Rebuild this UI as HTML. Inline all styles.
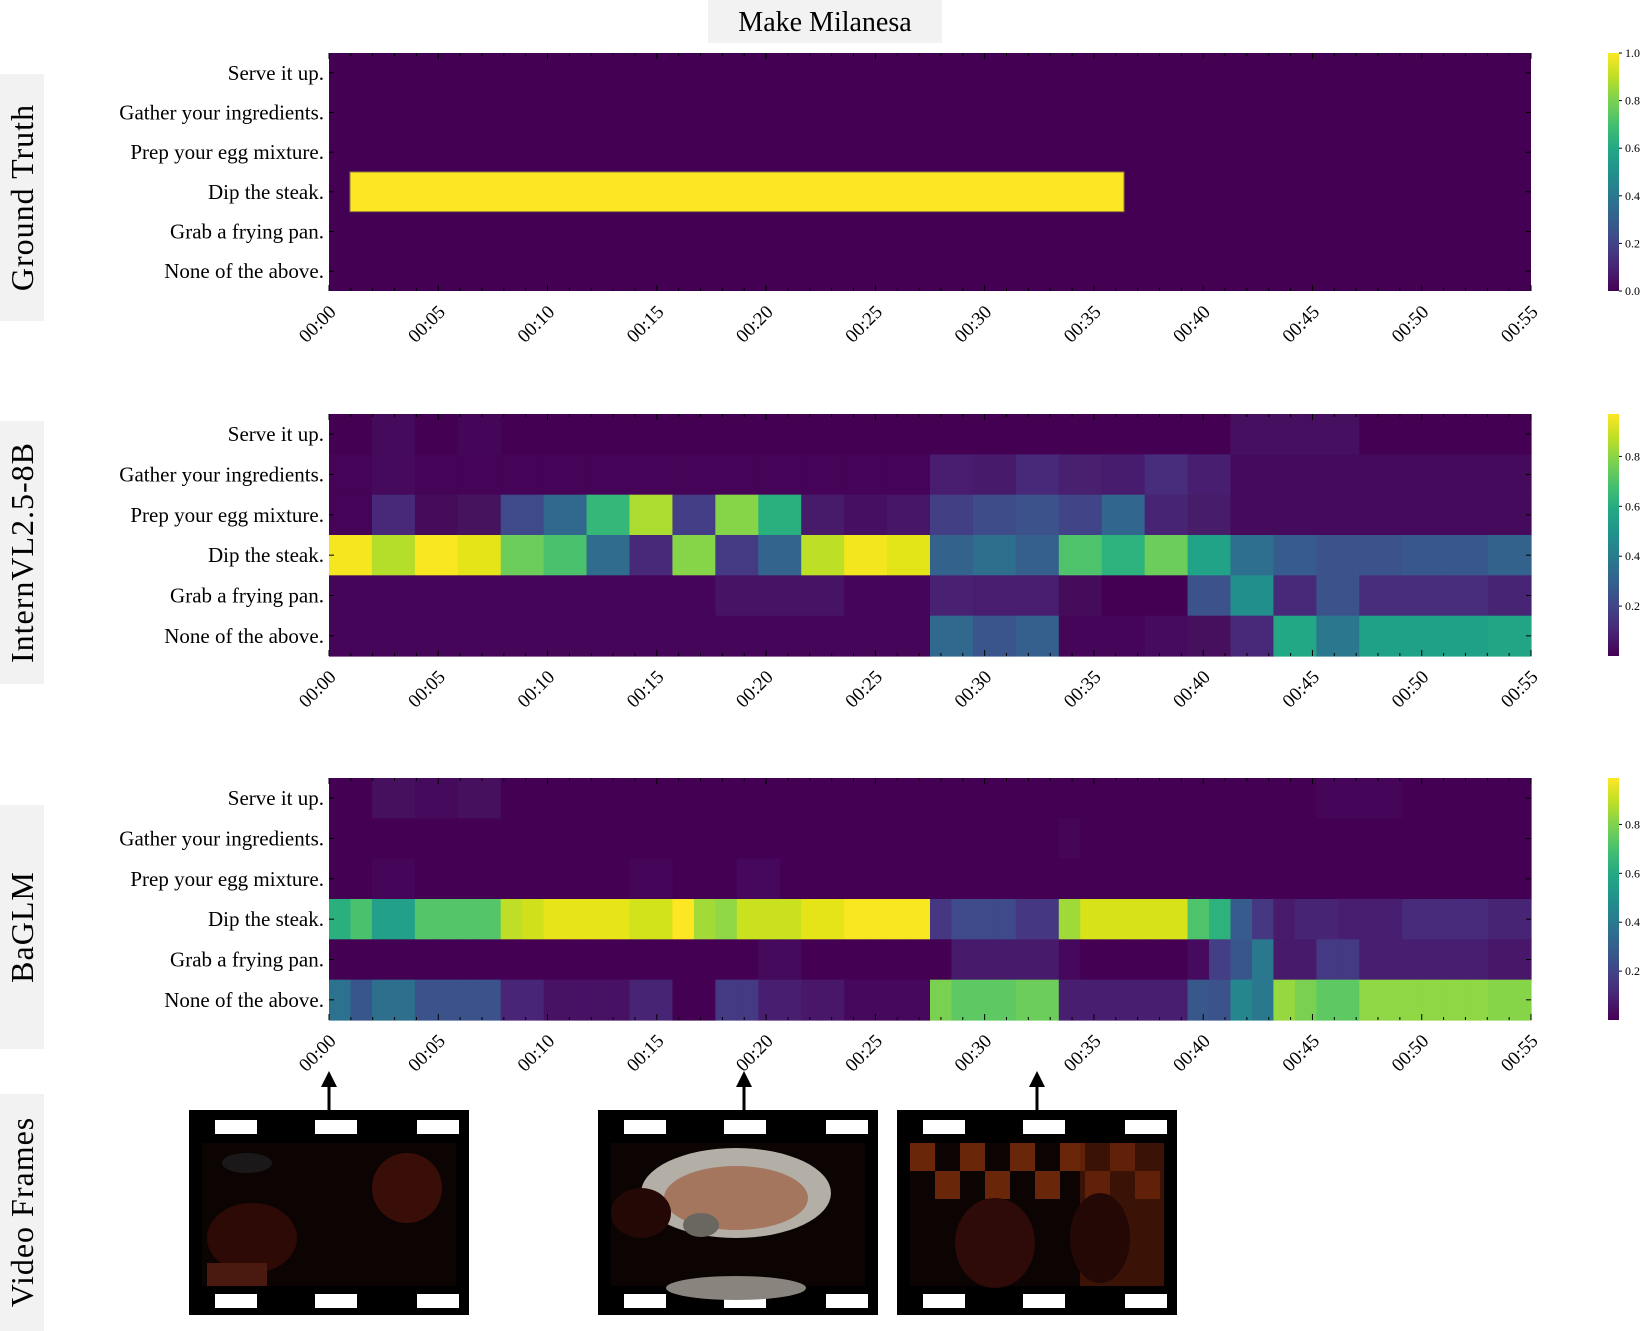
<!DOCTYPE html>
<html><head><meta charset="utf-8"><style>
html,body{margin:0;padding:0;background:#fff;}
svg{display:block;font-family:"Liberation Serif",serif;}
text{font-family:"Liberation Serif",serif;}
</style></head><body>
<svg id="s" width="1650" height="1331" viewBox="0 0 1650 1331" xmlns="http://www.w3.org/2000/svg">
<defs>
<linearGradient id="vir" x1="0" y1="1" x2="0" y2="0">
<stop offset="0" stop-color="#440154"/><stop offset="0.1" stop-color="#482475"/><stop offset="0.2" stop-color="#414487"/><stop offset="0.3" stop-color="#355f8d"/><stop offset="0.4" stop-color="#2a788e"/><stop offset="0.5" stop-color="#21918c"/><stop offset="0.6" stop-color="#22a884"/><stop offset="0.7" stop-color="#44bf70"/><stop offset="0.8" stop-color="#7ad151"/><stop offset="0.9" stop-color="#bddf26"/><stop offset="1" stop-color="#fde725"/>
</linearGradient>
</defs>
<rect x="708" y="0" width="234" height="43" fill="#f2f2f2"/>
<text x="825" y="31" font-size="28" text-anchor="middle" font-family="Liberation Serif, serif">Make Milanesa</text>
<g id="g"></g>
</svg>
<script>
var g=document.getElementById('g');var NS='http://www.w3.org/2000/svg';
function el(t,a,txt){var e=document.createElementNS(NS,t);for(var k in a)e.setAttribute(k,a[k]);if(txt)e.textContent=txt;g.appendChild(e);return e;}
var X0=329,X1=1531,W=X1-X0;
var rows=["Serve it up.","Gather your ingredients.","Prep your egg mixture.","Dip the steak.","Grab a frying pan.","None of the above."];
var D="#440154";
function fill(n,c){var a=[];for(var i=0;i<n;i++)a.push(c);return a;}
function set(a,from,to,c){for(var i=from;i<=to;i++)a[i]=c;}
var iv=[];
var r0=fill(28,D);set(r0,1,1,"#450a5c");set(r0,3,3,"#45065a");set(r0,21,23,"#460f60");iv.push(r0);
var r1=fill(28,"#450457");set(r1,1,1,"#460a5d");set(r1,14,14,"#481c6e");set(r1,15,15,"#471a6b");set(r1,16,16,"#482979");set(r1,17,17,"#48206f");set(r1,18,18,"#471b6d");set(r1,19,19,"#472d7b");set(r1,20,20,"#481f70");set(r1,21,27,"#460a5d");iv.push(r1);
iv.push(["#450457","#482878","#450c5c","#46145f","#3e4a89","#31688e","#35b779","#addc30","#433e85","#86d549","#2ab07f","#471a6a","#460f62","#481668","#423f85","#3e4c8a","#3b528b","#414487","#31668e","#482475","#471c69","#460a5d","#460a5d","#460a5d","#460a5d","#460a5d","#460a5d","#460a5d"]);
iv.push(["#f6e620","#b5de2b","#f8e621","#e5e419","#6ccd5a","#4ac16d","#2f6c8e","#482878","#86d549","#443983","#32648e","#bddf26","#f4e61e","#e2e418","#33638d","#2e6f8e","#355f8d","#4ec36b","#2db27d","#6ccd5a","#20a386","#2e6e8e","#365c8d","#3b528b","#3b528b","#38588c","#38588c","#33628d"]);
var r4=fill(28,"#450559");set(r4,9,11,"#471464");set(r4,14,14,"#482173");set(r4,15,16,"#481d6f");set(r4,17,17,"#450c5c");set(r4,18,19,D);r4[20]="#3b528b";r4[21]="#21908d";r4[22]="#482878";r4[23]="#3b528b";set(r4,24,26,"#472d7b");r4[27]="#482475";iv.push(r4);
var r5=fill(28,"#45065a");r5[14]="#31688e";r5[15]="#3a548c";r5[16]="#355f8d";r5[17]="#450559";r5[18]="#450559";r5[19]="#460b5e";r5[20]="#46105f";r5[21]="#482878";r5[22]="#22a884";r5[23]="#2a788e";set(r5,24,26,"#1fa187");r5[27]="#22a585";iv.push(r5);
var bg=[];
var b0=fill(56,D);set(b0,2,3,"#46105f");set(b0,4,5,"#450a5c");set(b0,6,7,"#46105f");set(b0,46,49,"#45065a");bg.push(b0);
var b1=fill(56,D);b1[34]="#450559";bg.push(b1);
var b2=fill(56,D);set(b2,2,3,"#45065a");set(b2,14,15,"#45065a");set(b2,19,20,"#46085c");bg.push(b2);
var b3=[];var spec=[[0,0,"#2ab07f"],[1,1,"#4ac16d"],[2,3,"#23a08a"],[4,7,"#54c568"],[8,8,"#bede27"],[9,9,"#d0e11c"],[10,13,"#e7e419"],[14,15,"#d2e21b"],[16,16,"#fde725"],[17,17,"#a2da37"],[18,18,"#8fd744"],[19,21,"#cae11f"],[22,23,"#e4e419"],[24,27,"#f8e621"],[28,28,"#453781"],[29,31,"#3e4a89"],[32,33,"#453781"],[34,34,"#a0da39"],[35,39,"#d8e219"],[40,40,"#4ec36b"],[41,41,"#2db27d"],[42,42,"#365c8d"],[43,43,"#453781"],[44,44,"#481b6d"],[45,46,"#482475"],[47,49,"#481f70"],[50,53,"#472a7a"],[54,55,"#482475"]];
spec.forEach(function(s){set(b3,s[0],s[1],s[2]);});bg.push(b3);
var b4=fill(56,D);set(b4,20,21,"#450a5c");set(b4,29,33,"#481a6c");b4[34]="#46085c";b4[40]="#460b5e";b4[41]="#433e85";b4[42]="#39568c";b4[43]="#2a788e";set(b4,44,45,"#481a6c");set(b4,46,47,"#443983");set(b4,48,53,"#481f70");set(b4,54,55,"#481769");bg.push(b4);
var b5=[];[[0,0,"#2c728e"],[1,1,"#39568c"],[2,3,"#2e6f8e"],[4,7,"#3b528b"],[8,9,"#482576"],[10,13,"#471164"],[14,15,"#482475"],[16,17,D],[18,19,"#443983"],[20,21,"#481f70"],[22,23,"#481769"],[24,27,"#46085c"],[28,28,"#7ad151"],[29,31,"#5ec962"],[32,33,"#6ccd5a"],[34,39,"#481f70"],[40,40,"#38588c"],[41,41,"#3b528b"],[42,42,"#24878e"],[43,43,"#2a788e"],[44,44,"#95d840"],[45,45,"#7ad151"],[46,47,"#5ec962"],[48,53,"#8fd744"],[54,55,"#86d549"]].forEach(function(s){set(b5,s[0],s[1],s[2]);});bg.push(b5);

function panel(top,bot,data,label,lb,ticks,vmax){
 var H=bot-top,rh=H/6;
 el('rect',{x:X0,y:top,width:W,height:H,fill:D});
 if(data){data.forEach(function(r,ri){var n=r.length,cw=W/n;r.forEach(function(c,ci){el('rect',{x:X0+ci*cw,y:top+ri*rh,width:cw+0.6,height:rh+0.6,fill:c});});});}
 else{el('rect',{x:350,y:top+3*rh,width:774,height:rh,fill:"#fde725",stroke:"#8a7a3a","stroke-width":1});}
 rows.forEach(function(t,i){el('text',{x:324,y:top+(i+0.5)*rh+7,"font-size":21,"text-anchor":"end"},t);
  el('line',{x1:X0,x2:X0+5,y1:top+(i+0.5)*rh,y2:top+(i+0.5)*rh,stroke:"#000"});el('line',{x1:X1,x2:X1-5,y1:top+(i+0.5)*rh,y2:top+(i+0.5)*rh,stroke:"#000"});});
 var step=W/55;
 for(var k=0;k<=55;k++){var x=X0+k*step;var L=(k%5==0)?6:3;el('line',{x1:x,x2:x,y1:bot,y2:bot-L,stroke:"#000"});el('line',{x1:x,x2:x,y1:top,y2:top+L,stroke:"#000"});
  if(k%5==0){var m=(k<10?"0":"")+k;el('text',{x:0,y:0,"font-size":19,"text-anchor":"end",transform:"translate("+(x+8)+","+(bot+22)+") rotate(-45)"},"00:"+m);}}
 el('rect',{x:1608,y:top,width:11,height:H,fill:"url(#vir)"});
 ticks.forEach(function(v){var y=bot-v/vmax*H;el('line',{x1:1619,x2:1622,y1:y,y2:y,stroke:"#000"});el('text',{x:1625,y:y+4,"font-size":12},v.toFixed(1));});
 el('rect',{x:0,y:lb[0],width:44,height:lb[1]-lb[0],fill:"#f2f2f2"});
 el('text',{x:0,y:0,"font-size":32,"text-anchor":"middle","letter-spacing":"1",transform:"translate(33,"+((lb[0]+lb[1])/2)+") rotate(-90)"},label);
}
panel(53,291,null,"Ground Truth",[74,321],[0,0.2,0.4,0.6,0.8,1.0],1.0);
panel(414,656,iv,"InternVL2.5-8B",[421,684],[0.2,0.4,0.6,0.8],0.97);
panel(778,1020,bg,"BaGLM",[805,1049],[0.2,0.4,0.6,0.8],0.99);
el('rect',{x:0,y:1094,width:44,height:237,fill:"#f2f2f2"});
el('text',{x:0,y:0,"font-size":32,"text-anchor":"middle","letter-spacing":"1",transform:"translate(33,1212) rotate(-90)"},"Video Frames");
[329,744,1037].forEach(function(x){el('line',{x1:x,x2:x,y1:1084,y2:1110,stroke:"#000","stroke-width":3});el('polygon',{points:(x-8)+",1087 "+(x+8)+",1087 "+x+",1071",fill:"#000"});});
function frame(x0,kind){
 el('rect',{x:x0,y:1110,width:280,height:205,fill:"#000"});
 [26,126,228].forEach(function(dx){el('rect',{x:x0+dx,y:1120,width:42,height:14,fill:"#fff"});el('rect',{x:x0+dx,y:1294,width:42,height:14,fill:"#fff"});});
 var ix=x0+13,iy=1143,iw=254,ih=143;
 el('rect',{x:ix,y:iy,width:iw,height:ih,fill:"#0c0403"});
 if(kind==1){el('ellipse',{cx:ix+50,cy:iy+95,rx:45,ry:35,fill:"#2e0a06"});el('ellipse',{cx:ix+205,cy:iy+45,rx:35,ry:35,fill:"#3a0e08"});el('ellipse',{cx:ix+45,cy:iy+20,rx:25,ry:10,fill:"#1a1818"});el('rect',{x:ix+5,y:iy+120,width:60,height:23,fill:"#4a1a10"});}
 if(kind==2){el('ellipse',{cx:ix+125,cy:iy+50,rx:95,ry:45,fill:"#b3aea6"});el('ellipse',{cx:ix+125,cy:iy+55,rx:72,ry:32,fill:"#a5765e"});el('ellipse',{cx:ix+125,cy:iy+145,rx:70,ry:12,fill:"#8a847e"});el('ellipse',{cx:ix+90,cy:iy+82,rx:18,ry:12,fill:"#6a6660"});el('ellipse',{cx:ix+30,cy:iy+70,rx:30,ry:25,fill:"#240806"});}
 if(kind==3){for(var i=0;i<5;i++)for(var j=0;j<2;j++){el('rect',{x:ix+i*50+(j%2)*25,y:iy+j*28,width:25,height:28,fill:"#6a2608"});}
  el('rect',{x:ix+170,y:iy,width:84,height:143,fill:"#5a1e08","fill-opacity":0.6});el('ellipse',{cx:ix+85,cy:iy+100,rx:40,ry:45,fill:"#2e0a08"});el('ellipse',{cx:ix+190,cy:iy+95,rx:30,ry:45,fill:"#240806"});}
}
frame(189,1);frame(598,2);frame(897,3);
</script>
</body></html>
